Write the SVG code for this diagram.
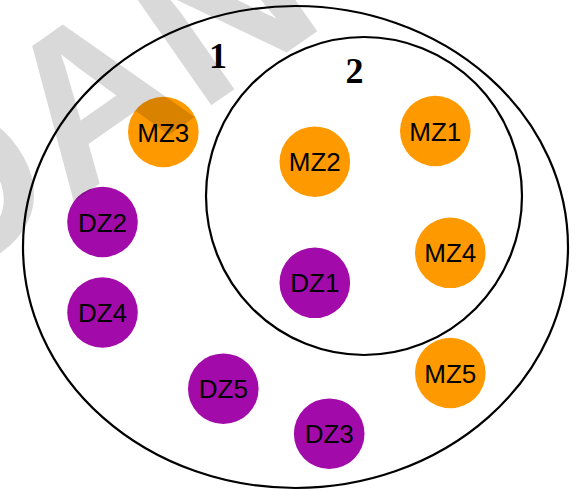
<svg xmlns="http://www.w3.org/2000/svg" width="576" height="490" viewBox="0 0 576 490">
<style>
.set{fill:none;stroke:#000;stroke-width:2.2}
.mz{fill:#FF9900}
.dz{fill:#A20BAA}
.lbl{font-family:"Liberation Sans",Arial,sans-serif;font-size:26px;fill:#000;text-anchor:middle}
.num{font-family:"Liberation Serif","Times New Roman",serif;font-size:36px;font-weight:bold;fill:#000;text-anchor:middle}
.wm{font-family:"Liberation Sans",Arial,sans-serif;font-size:220px;font-weight:bold;fill:#000;fill-opacity:0.15}
</style>
<rect width="576" height="490" fill="#fff"/>
<g id="set1">
<ellipse class="set" cx="295.5" cy="247" rx="272.5" ry="241"/>
<text class="num" x="218" y="68">1</text>
</g>
<g id="set2">
<ellipse class="set" cx="364" cy="196" rx="158" ry="159"/>
<text class="num" x="354.5" y="83">2</text>
</g>
<g id="connectors"></g>
<g id="MZ3"><circle class="mz" cx="163.3" cy="132" r="35.3"/><text class="lbl" x="163.3" y="141.5">MZ3</text></g>
<g id="MZ2"><circle class="mz" cx="314.8" cy="161.7" r="35.3"/><text class="lbl" x="314.8" y="171.2">MZ2</text></g>
<g id="MZ1"><circle class="mz" cx="435.3" cy="131" r="35.3"/><text class="lbl" x="435.3" y="140.5">MZ1</text></g>
<g id="MZ4"><circle class="mz" cx="450.3" cy="252.8" r="35.3"/><text class="lbl" x="450.3" y="262.3">MZ4</text></g>
<g id="MZ5"><circle class="mz" cx="450.3" cy="373" r="35.3"/><text class="lbl" x="450.3" y="382.5">MZ5</text></g>
<g id="DZ2"><circle class="dz" cx="102.5" cy="222" r="35.3"/><text class="lbl" x="102.5" y="231.5">DZ2</text></g>
<g id="DZ4"><circle class="dz" cx="102.5" cy="312.5" r="35.3"/><text class="lbl" x="102.5" y="322">DZ4</text></g>
<g id="DZ1"><circle class="dz" cx="314.8" cy="282.8" r="35.3"/><text class="lbl" x="314.8" y="292.3">DZ1</text></g>
<g id="DZ5"><circle class="dz" cx="223.3" cy="388.7" r="35.3"/><text class="lbl" x="223.3" y="398.2">DZ5</text></g>
<g id="DZ3"><circle class="dz" cx="329.2" cy="433.7" r="35.3"/><text class="lbl" x="329.2" y="443.2">DZ3</text></g>
<text class="wm" transform="translate(-61 296) rotate(-35)">DAN</text>
</svg>
